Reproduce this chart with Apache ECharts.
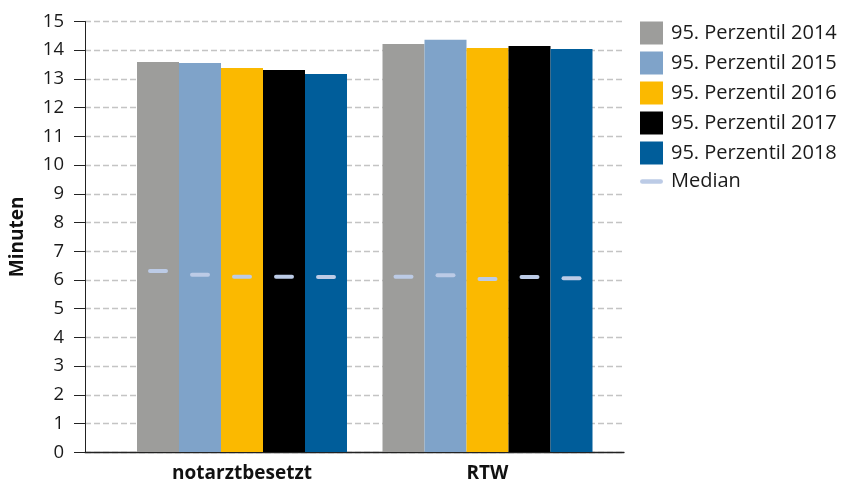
<!DOCTYPE html>
<html>
<head>
<meta charset="utf-8">
<script src="https://cdn.jsdelivr.net/npm/echarts@6/dist/echarts.min.js"></script>
<style>
html,body{margin:0;padding:0;background:#fff;}
#chart{width:846px;height:483px;}
</style>
</head>
<body>
<div id="chart"></div>
<script>
// Data
const categories = ['notarztbesetzt', 'RTW'];
const seriesNames = ['95. Perzentil 2014', '95. Perzentil 2015', '95. Perzentil 2016', '95. Perzentil 2017', '95. Perzentil 2018'];
const p95_2014 = [13.59, 14.22];
const p95_2015 = [13.55, 14.36];
const p95_2016 = [13.38, 14.08];
const p95_2017 = [13.31, 14.15];
const p95_2018 = [13.17, 14.04];
const median_notarztbesetzt = [6.31, 6.18, 6.11, 6.11, 6.10];
const median_RTW = [6.11, 6.16, 6.03, 6.10, 6.05];
const yTicks = [0, 15, 1]; // min, max, interval

const colors = ['#9d9d9b', '#7fa3c9', '#fbb900', '#000000', '#005d9a'];
const medianColor = '#bccbe6';
const catGap = '14.46%';

const p95 = [p95_2014, p95_2015, p95_2016, p95_2017, p95_2018];
const medians = [median_notarztbesetzt, median_RTW];

const medianData = [];
medians.forEach((arr, ci) => arr.forEach((v, yi) => medianData.push([ci, yi, v])));

const barSeries = seriesNames.map((name, i) => ({
  name: name,
  type: 'bar',
  xAxisIndex: 1,
  yAxisIndex: 1,
  data: p95[i],
  barGap: '0%',
  barCategoryGap: catGap,
  itemStyle: { color: colors[i] },
  emphasis: { disabled: true },
  z: 2
}));

const medianSeries = {
  name: 'Median',
  type: 'custom',
  xAxisIndex: 1,
  yAxisIndex: 1,
  itemStyle: { color: medianColor },
  encode: { x: 0, y: 2 },
  data: medianData,
  z: 5,
  renderItem: function (params, api) {
    const ci = api.value(0), yi = api.value(1), v = api.value(2);
    const pt = api.coord([ci, v]);
    let offC, w;
    const lay = api.barLayout ? api.barLayout({ count: 5, barGap: '0%', barCategoryGap: catGap }) : null;
    if (lay && lay[yi]) {
      offC = lay[yi].offsetCenter; w = lay[yi].width;
    } else {
      const band = api.size([1, 0])[0];
      w = band * (1 - 0.1446) / 5;
      offC = -2.5 * w + (yi + 0.5) * w;
    }
    const x = pt[0] + offC;
    const half = w * 0.19;
    return {
      type: 'line',
      shape: { x1: x - half, y1: pt[1], x2: x + half, y2: pt[1] },
      style: { stroke: medianColor, lineWidth: 4, lineCap: 'round' }
    };
  }
};

const legendData = seriesNames.map(n => ({ name: n, icon: 'rect' }));
legendData.push({ name: 'Median', icon: 'path://M2,0h16a2,2 0 0 1 0,4h-16a2,2 0 0 1 0,-4z' });

const option = {
  animation: false,
  backgroundColor: '#ffffff',
  textStyle: { fontFamily: 'Open Sans' },
  grid: [
    { left: 81, right: 222, top: 21.5, bottom: 30.7, containLabel: false },
    { left: 119.25, width: 491, top: 21.5, bottom: 30.7, containLabel: false }
  ],
  legend: {
    orient: 'vertical',
    left: 635,
    top: 16.5,
    itemWidth: 23,
    itemHeight: 23,
    itemGap: 7,
    data: legendData,
    textStyle: { fontFamily: 'Open Sans', fontSize: 20, color: '#1a1a1a', padding: [0, 0, 0, 3] },
    selectedMode: false
  },
  xAxis: [
    {
      gridIndex: 0, type: 'category', data: categories,
      axisLine: { lineStyle: { color: '#222', width: 1.3 } },
      axisTick: { show: false }, axisLabel: { show: false }, splitLine: { show: false }
    },
    {
      gridIndex: 1, type: 'category', data: categories,
      axisLine: { show: false }, axisTick: { show: false },
      axisLabel: { fontFamily: 'Open Sans', fontWeight: 'bold', fontSize: 19, color: '#111', margin: 12 },
      splitLine: { show: false }
    }
  ],
  yAxis: [
    {
      gridIndex: 0, type: 'value', min: yTicks[0], max: yTicks[1], interval: yTicks[2],
      name: 'Minuten', nameLocation: 'middle', nameGap: 58,
      nameTextStyle: { fontFamily: 'Open Sans', fontWeight: 'bold', fontSize: 19, color: '#111' },
      axisLine: { show: true, lineStyle: { color: '#222', width: 1 } },
      axisTick: { show: true, inside: false, length: 11, lineStyle: { color: '#222' } },
      axisLabel: { fontFamily: 'Open Sans', fontSize: 18.5, color: '#1a1a1a', margin: 21 },
      splitLine: { show: true, lineStyle: { color: '#c4c4c4', width: 1.4, type: [6, 3] } }
    },
    {
      gridIndex: 1, type: 'value', min: yTicks[0], max: yTicks[1], interval: yTicks[2],
      show: false, splitLine: { show: false }
    }
  ],
  series: barSeries.concat([medianSeries])
};

const chart = echarts.init(document.getElementById('chart'), null, { renderer: 'canvas' });
chart.setOption(option);
</script>
</body>
</html>
